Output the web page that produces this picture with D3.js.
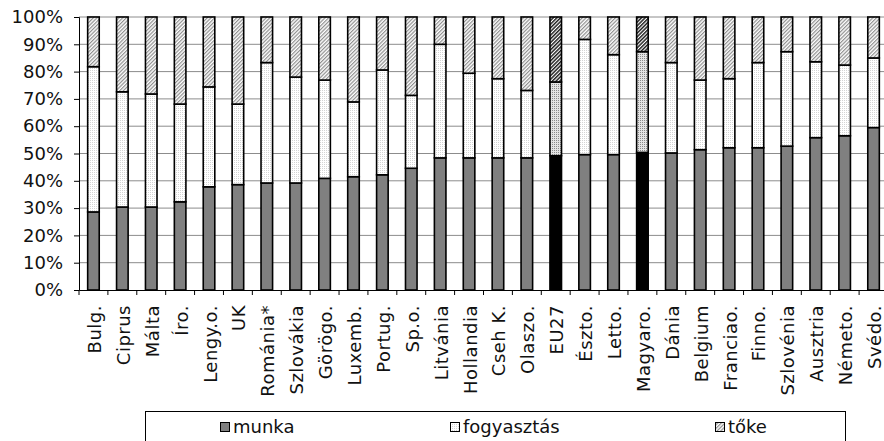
<!DOCTYPE html>
<html>
<head>
<meta charset="utf-8">
<script src="https://cdn.jsdelivr.net/npm/d3@7"></script>
<style>
  html, body { margin: 0; padding: 0; background: #fff; }
  svg { display: block; }
  text { font-family: "DejaVu Sans", Verdana, sans-serif; fill: #111; }
</style>
</head>
<body>
<svg id="chart" width="884" height="441"></svg>
<script>
const categories = ["Bulg.","Ciprus","Málta","Íro.","Lengy.o.","UK","Románia*","Szlovákia","Görögo.","Luxemb.","Portug.","Sp.o.","Litvánia","Hollandia","Cseh K.","Olaszo.","EU27","Észto.","Letto.","Magyaro.","Dánia","Belgium","Franciao.","Finno.","Szlovénia","Ausztria","Németo.","Svédo."];
const munka =       [28.6,30.4,30.4,32.3,37.8,38.6,39.2,39.2,40.9,41.5,42.2,44.6,48.4,48.4,48.4,48.4,49.2,49.6,49.6,50.4,50.2,51.4,52.1,52.1,52.7,55.8,56.5,59.5];
const fogyasztas =  [53.2,42.2,41.4,35.8,36.6,29.5,44.1,38.8,36.0,27.4,38.4,26.7,41.6,31.0,29.0,24.7,27.0,42.2,36.6,36.9,33.1,25.5,25.3,31.2,34.6,27.8,25.9,25.5];
const toke =        [18.2,27.4,28.2,31.9,25.6,31.9,16.7,22.0,23.1,31.1,19.4,28.7,10.0,20.6,22.6,26.9,23.8, 8.2,13.8,12.7,16.7,23.1,22.6,16.7,12.7,16.4,17.6,15.0];
const highlighted = ["EU27","Magyaro."];
const seriesNames = ["munka","fogyasztás","tőke"];
const yTicks = [0,10,20,30,40,50,60,70,80,90,100];

const svg = d3.select("#chart");
const defs = svg.append("defs");

function dotPattern(id, bg, dot) {
  const p = defs.append("pattern").attr("id", id).attr("patternUnits","userSpaceOnUse")
    .attr("width", 2).attr("height", 2);
  p.append("rect").attr("width",2).attr("height",2).attr("fill",bg);
  p.append("rect").attr("width",1).attr("height",1).attr("fill",dot);
}
function hatchPattern(id, bg, line, w) {
  const p = defs.append("pattern").attr("id", id).attr("patternUnits","userSpaceOnUse")
    .attr("width", 2.6).attr("height", 2.6).attr("patternTransform","rotate(45)");
  p.append("rect").attr("width",2.6).attr("height",2.6).attr("fill",bg);
  p.append("rect").attr("width",w).attr("height",2.6).attr("fill",line);
}
dotPattern("fogy", "#ffffff", "#d4d4d4");
dotPattern("fogyH", "#e4e4e4", "#8a8a8a");
hatchPattern("toke", "#ffffff", "#8f8f8f", 1.2);
hatchPattern("tokeH", "#ffffff", "#222222", 1.5);

const mLeft = 79, mRight = 888, mTop = 17, mBottom = 290;
const x = d3.scaleBand().domain(categories).range([mLeft, mRight]).padding(0);
const y = d3.scaleLinear().domain([0, 100]).range([mBottom, mTop]);
const barW = x.step() * 0.4;

// gridlines
svg.append("g").selectAll("line").data(yTicks.slice(1)).join("line")
  .attr("x1", mLeft).attr("x2", mRight)
  .attr("y1", d => y(d)).attr("y2", d => y(d))
  .attr("stroke", "#8c8c8c").attr("stroke-width", 1);

// y axis
const yAxis = d3.axisLeft(y).tickValues(yTicks).tickFormat(d => d + "%").tickSize(5).tickPadding(11);
const gy = svg.append("g").attr("transform", `translate(${mLeft},0)`).call(yAxis);
gy.select(".domain").attr("stroke", "#000").attr("stroke-width", 1);
gy.selectAll(".tick line").attr("stroke", "#000");
gy.selectAll(".tick text").attr("font-size", 18).attr("font-family", "DejaVu Sans, Verdana, sans-serif").attr("fill", "#111");

// bars
const rows = categories.map((c, i) => ({ cat: c, vals: [munka[i], fogyasztas[i], toke[i]] }));
const gBars = svg.append("g");
rows.forEach(r => {
  const hi = highlighted.includes(r.cat);
  const fills = hi ? ["#000000", "url(#fogyH)", "url(#tokeH)"] : ["#808080", "url(#fogy)", "url(#toke)"];
  let acc = 0;
  r.vals.forEach((v, k) => {
    const y0 = y(acc), y1 = y(acc + v);
    gBars.append("rect")
      .attr("x", x(r.cat) + (x.step() - barW) / 2)
      .attr("y", y1)
      .attr("width", barW)
      .attr("height", y0 - y1)
      .attr("fill", fills[k])
      .attr("stroke", "#000")
      .attr("stroke-width", 1.6);
    acc += v;
  });
});

// x axis
const xAxis = d3.axisBottom(x).tickSize(0).tickFormat("");
const gx = svg.append("g").attr("transform", `translate(0,${mBottom})`).call(xAxis);
gx.select(".domain").attr("stroke", "#000").attr("stroke-width", 1.2);
// boundary ticks
const bounds = categories.map(c => x(c)).concat([mRight]);
svg.append("g").selectAll("line").data(bounds).join("line")
  .attr("x1", d => d).attr("x2", d => d)
  .attr("y1", mBottom).attr("y2", mBottom + 5)
  .attr("stroke", "#000");

// category labels
svg.append("g").selectAll("text").data(categories).join("text")
  .attr("transform", d => `translate(${x(d) + x.step() / 2 + 1},305) rotate(-90)`)
  .attr("text-anchor", "end")
  .attr("dy", "0.36em")
  .attr("font-size", 18)
  .attr("letter-spacing", 0.5)
  .text(d => d);

// legend
const lg = svg.append("g");
lg.append("rect").attr("x", 145.5).attr("y", 411.5).attr("width", 700).attr("height", 40)
  .attr("fill", "#fff").attr("stroke", "#000").attr("stroke-width", 1);
const legendX = [220, 450, 715];
const legendFill = ["#808080", "url(#fogy)", "url(#toke)"];
seriesNames.forEach((s, i) => {
  lg.append("rect").attr("x", legendX[i] + 0.5).attr("y", 422.5).attr("width", 9).attr("height", 9)
    .attr("fill", legendFill[i]).attr("stroke", "#000").attr("stroke-width", 1);
  lg.append("text").attr("x", legendX[i] + 13).attr("y", 433).attr("font-size", 18).text(s);
});
</script>
</body>
</html>
